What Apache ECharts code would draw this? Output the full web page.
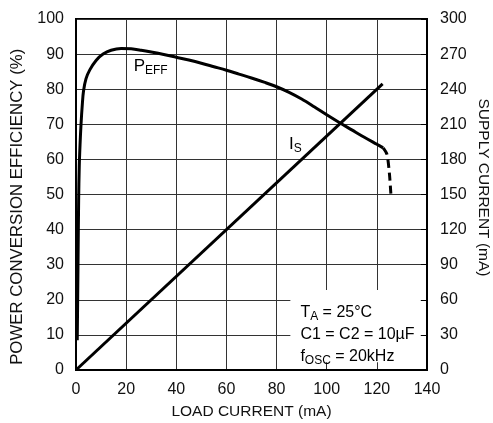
<!DOCTYPE html>
<html><head><meta charset="utf-8">
<script src="https://cdn.jsdelivr.net/npm/echarts@6/dist/echarts.min.js"></script>
<style>html,body{margin:0;padding:0;background:#fff}#c{width:493px;height:423px}</style>
</head><body><div id="c"></div>
<script>
// ---- data ----
var loadCurrent = [0.5, 0.8, 1.05, 1.3, 1.6, 2.0, 2.5, 3, 4, 5.5, 8, 10.8, 14, 18, 22, 26, 30, 35, 40, 45, 50, 55, 60, 65, 70, 75, 80, 85, 90, 95, 100, 105, 110, 115, 120, 122.5];
var efficiency  = [8.5, 30, 48, 58, 64, 70, 75.5, 79.5, 83, 85.5, 88.2, 90, 91.1, 91.6, 91.5, 91.1, 90.6, 89.9, 89.1, 88.3, 87.4, 86.4, 85.4, 84.3, 83.2, 82.0, 80.7, 79.1, 77.2, 75.0, 72.7, 70.5, 68.4, 66.3, 64.3, 63.3];
var tailCurrent = [122.5, 124, 125, 125.6];
var tailEff     = [63.3, 61.5, 56, 50];
var isCurrent   = [0, 122.3];
var supplyCurrent = [0, 244.5];
var xTicks = [0, 20, 40, 60, 80, 100, 120, 140];
var leftTicks = [0, 10, 20, 30, 40, 50, 60, 70, 80, 90, 100];
var rightTicks = [0, 30, 60, 90, 120, 150, 180, 210, 240, 270, 300];

var FONT = "'Liberation Sans', Arial, sans-serif";
function pairs(xs, ys){ return xs.map(function(x,i){ return [x, ys[i]]; }); }

var chart = echarts.init(document.getElementById('c'), null, {renderer:'canvas'});
var gridLine = {show:true, lineStyle:{color:'#333', width:1}};
var option = {
  animation:false,
  backgroundColor:'#fff',
  grid:{left:76, right:66, top:19, bottom:53, outerBoundsMode:'none', containLabel:false, show:true, borderColor:'#000', borderWidth:2, backgroundColor:'transparent'},
  xAxis:{type:'value', min:xTicks[0], max:xTicks[xTicks.length-1], interval:20,
    axisLine:{show:true, lineStyle:{color:'#000', width:2}}, axisTick:{show:false},
    axisLabel:{color:'#111', fontFamily:FONT, fontSize:16, margin:12},
    splitLine:gridLine,
    name:'LOAD CURRENT (mA)', nameLocation:'middle', nameGap:34,
    nameTextStyle:{color:'#111', fontFamily:FONT, fontSize:15.5}},
  yAxis:[
    {type:'value', min:leftTicks[0], max:leftTicks[leftTicks.length-1], interval:10,
     axisLine:{show:true, lineStyle:{color:'#000', width:2}}, axisTick:{show:false},
     axisLabel:{color:'#111', fontFamily:FONT, fontSize:16, margin:12},
     splitLine:gridLine},
    {type:'value', min:rightTicks[0], max:rightTicks[rightTicks.length-1], interval:30, position:'right',
     axisLine:{show:true, lineStyle:{color:'#000', width:2}}, axisTick:{show:true, inside:true, length:6, lineStyle:{color:'#000'}},
     axisLabel:{color:'#111', fontFamily:FONT, fontSize:16, margin:13},
     splitLine:{show:false}}
  ],
  series:[
    {type:'line', name:'PEFF', data:pairs(loadCurrent, efficiency), showSymbol:false, smooth:0.35,
     lineStyle:{color:'#000', width:3}, z:5},
    {type:'line', name:'tail', data:pairs(tailCurrent, tailEff), showSymbol:false, smooth:0.3,
     lineStyle:{color:'#000', width:3, type:[8,5]}, z:5},
    {type:'line', name:'IS', yAxisIndex:1, data:pairs(isCurrent, supplyCurrent), showSymbol:false,
     lineStyle:{color:'#000', width:3}, z:5}
  ]
};
chart.setOption(option);

function px(x, y){ return chart.convertToPixel({gridIndex:0}, [x, y]); }
var boxTL = px(85.5, 22.8), boxBR = px(137.5, 2.2);
var pLab = px(23, 86.6), iLab = px(85, 64.4);
var tA = px(89.5, 19.6);
var leftTitle = px(-23.2, 46.5), rightTitle = px(162.5, 52);
var rich = {
  n:{fontSize:17, fontFamily:FONT, color:'#111'},
  s:{fontSize:12, fontFamily:FONT, color:'#111', padding:[9,0,0,0]}
};
chart.setOption({graphic:[
  {type:'rect', z:1, shape:{x:boxTL[0], y:boxTL[1], width:boxBR[0]-boxTL[0], height:boxBR[1]-boxTL[1]}, style:{fill:'#fff'}},
  {type:'text', z:10, x:pLab[0], y:pLab[1], style:{text:'{n|P}{s|EFF}', rich:rich, verticalAlign:'middle'}},
  {type:'text', z:10, x:iLab[0], y:iLab[1], style:{text:'{n|I}{s|S}', rich:rich, verticalAlign:'middle'}},
  {type:'text', z:10, x:tA[0], y:tA[1], style:{text:'{n|T}{s|A}{n| = 25°C}\n{n|C1 = C2 = 10µF}\n{n|f}{s|OSC}{n| = 20kHz}', rich:{
    n:{fontSize:16, fontFamily:FONT, color:'#111', lineHeight:22},
    s:{fontSize:12, fontFamily:FONT, color:'#111', lineHeight:22, padding:[9,0,0,0]}
  }, verticalAlign:'top'}},
  {type:'text', z:10, x:leftTitle[0], y:leftTitle[1], rotation:Math.PI/2,
   style:{text:'POWER CONVERSION EFFICIENCY (%)', fontFamily:FONT, fontSize:16.8, fill:'#111', align:'center', verticalAlign:'middle'}},
  {type:'text', z:10, x:rightTitle[0], y:rightTitle[1], rotation:-Math.PI/2,
   style:{text:'SUPPLY CURRENT (mA)', fontFamily:FONT, fontSize:15.5, fill:'#111', align:'center', verticalAlign:'middle'}}
]});
</script></body></html>
